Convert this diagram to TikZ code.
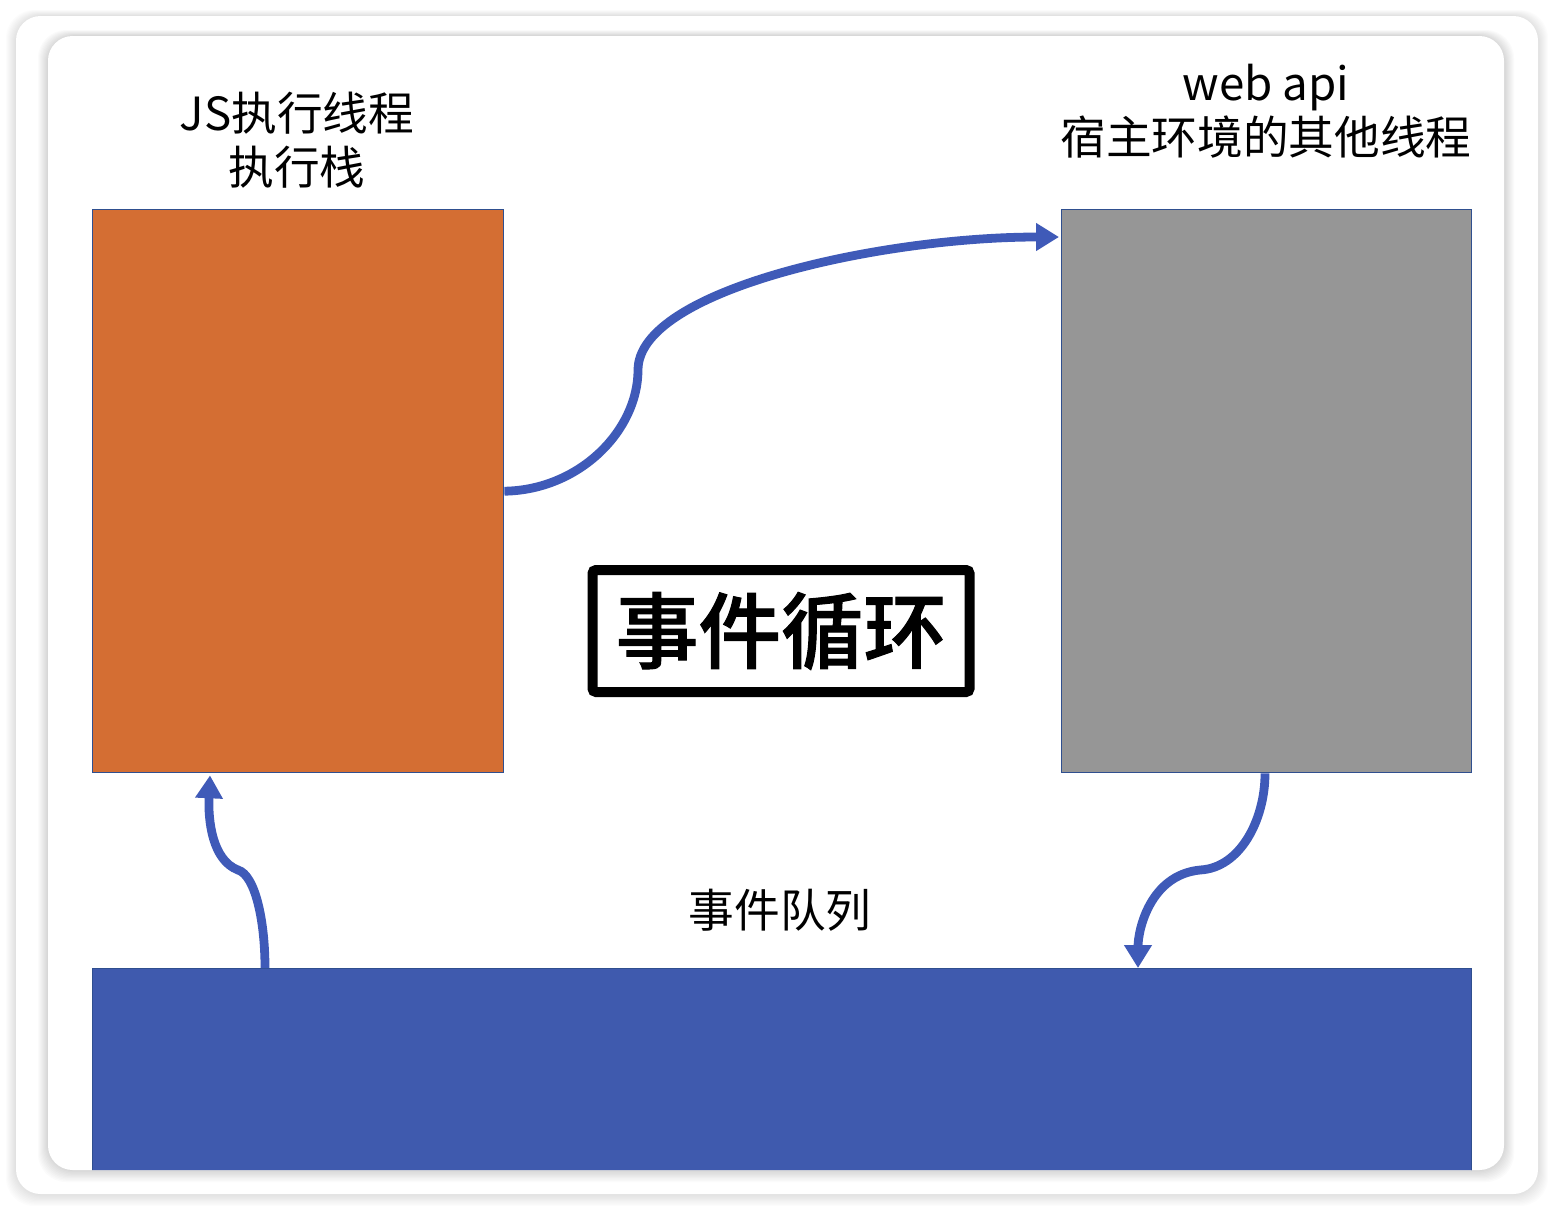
\documentclass[tikz,border=0pt]{standalone}
\usepackage{fontspec}
\newfontfamily\cjk{Noto Sans CJK SC}
\newfontfamily\cjkmed[FakeBold=1.2]{Noto Sans CJK SC Medium}
\usetikzlibrary{arrows.meta,calc}
\definecolor{orangebox}{HTML}{D46E33}
\definecolor{graybox}{HTML}{969696}
\definecolor{bluebar}{HTML}{3F5AAE}
\definecolor{arrowblue}{HTML}{3F5AB8}
\definecolor{edgeblue}{HTML}{2F4F8F}
\tikzset{
  panel/.style={draw=edgeblue, line width=0.8pt, inner sep=0pt, anchor=north west},
  flow/.style={draw=arrowblue, line width=5pt, -{Triangle[length=13pt,width=15pt]}},
  label/.style={font=\cjk\fontsize{26}{31}\selectfont, align=center, inner sep=0pt},
}
\begin{document}
\begin{tikzpicture}[x=0.02cm,y=-0.02cm]
\useasboundingbox (0,0) rectangle (1554,1210);
\fill[white] (0,0) rectangle (1554,1210);
% outer frame shadow
\foreach \i in {1,...,10}{
  \fill[black, opacity=0.012, rounded corners=16] (16-\i,16-\i*0.6) rectangle (1538+\i,1194+\i*1.2);
}
\fill[white, rounded corners=14] (16,16) rectangle (1538,1194);
% inner card shadow
\foreach \i in {1,...,10}{
  \fill[black, opacity=0.016, rounded corners=16] (48-\i,36-\i*0.6) rectangle (1504+\i,1170+\i*1.2);
}
\fill[white, rounded corners=14] (48,36) rectangle (1504,1170);

\begin{scope}
\clip[rounded corners=14] (48,36) rectangle (1504,1170);
\node[panel, fill=bluebar, minimum width=1379*0.02cm, minimum height=220*0.02cm] (queue) at (92,968) {};
\end{scope}

\node[panel, fill=orangebox, minimum width=411*0.02cm, minimum height=563*0.02cm] (js) at (92,209) {};
\node[panel, fill=graybox, minimum width=410*0.02cm, minimum height=563*0.02cm] (api) at (1061,209) {};

\node[label] (jslabel) at (297,140) {JS执行线程\\执行栈};
\node[label] (apilabel) at (1266,111) {web api\\宿主环境的其他线程};
\node[label] (qlabel) at (780,910) {事件队列};

\node[draw=black, line width=5.7pt, rounded corners=2pt, fill=white,
      minimum width=377*0.02cm, minimum height=122*0.02cm,
      font=\cjkmed\fontsize{47}{50}\selectfont, inner sep=0pt] (loop) at (781,631) {事件循环};

\coordinate (a1end) at ($(api.north west)+(-2,28)$);
\coordinate (a2start) at ($(queue.north west)+(173,0)$);
\coordinate (a2end) at ($(js.south west)+(118,2)$);
\coordinate (a3start) at ($(api.south west)+(204,0)$);
\coordinate (a3end) at ($(queue.north west)+(1046,0)$);

\draw[flow] (js.east) .. controls (580,490) and (638,430) .. (638,370)
  .. controls (638,290) and (880,237) .. (a1end);
\draw[flow] (a2start) .. controls (265,920) and (255,875) .. (238,870)
  .. controls (212,860) and (208,820) .. (a2end);
\draw[flow] (a3start) .. controls (1265,820) and (1240,868) .. (1200,870)
  .. controls (1150,875) and (1138,930) .. (a3end);
\end{tikzpicture}
\end{document}
